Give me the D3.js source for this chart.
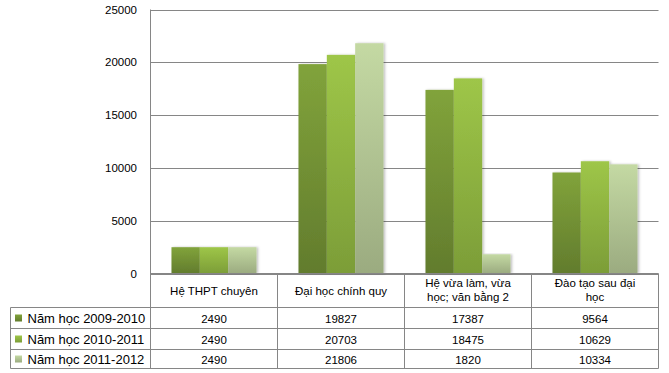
<!DOCTYPE html>
<html><head><meta charset="utf-8">
<script src="https://cdn.jsdelivr.net/npm/d3@7/dist/d3.min.js"></script>
<style>body{margin:0;background:#fff}svg{display:block}text{font-family:"Liberation Sans",Arial,sans-serif;fill:#000}</style>
</head><body><svg id="c" width="669" height="373"></svg>
<script>
const categories = [["Hệ THPT chuyên"],["Đại học chính quy"],["Hệ vừa làm, vừa","học; văn bằng 2"],["Đào tạo sau đại","học"]];
const seriesNames = ["Năm học 2009-2010","Năm học 2010-2011","Năm học 2011-2012"];
const s2009 = [2490,19827,17387,9564];
const s2010 = [2490,20703,18475,10629];
const s2011 = [2490,21806,1820,10334];
const yTicks = [0,5000,10000,15000,20000,25000];
const colorsTop = ["#81a33b","#9ec648","#c4d9a3"];
const colorsBot = ["#627c2d","#7c9d38","#9bab80"];

const series = [s2009,s2010,s2011];
const svg = d3.select("#c");
const L=150.5, R=658.5, T=9.5, B=273.5;
const rowLines=[307.5,328.5,349.5,368.5];
const tableLeft=10.5;

const defs=svg.append("defs");
colorsTop.forEach((c,i)=>{
  const g=defs.append("linearGradient").attr("id","g"+i).attr("x1",0).attr("y1",0).attr("x2",0).attr("y2",1);
  g.append("stop").attr("offset","0%").attr("stop-color",c);
  g.append("stop").attr("offset","100%").attr("stop-color",colorsBot[i]);
});
const f=defs.append("filter").attr("id","sh").attr("x","-20%").attr("y","-5%").attr("width","150%").attr("height","110%");
f.append("feDropShadow").attr("dx",1.5).attr("dy",0).attr("stdDeviation",1).attr("flood-color","#000").attr("flood-opacity",0.25);

const y=d3.scaleLinear().domain([0,25000]).range([B,T]);
const x0=d3.scaleBand().domain(d3.range(categories.length)).range([L,R]).paddingInner(0).paddingOuter(0);
const x1=d3.scaleBand().domain(d3.range(series.length)).range([0,x0.bandwidth()]).paddingInner(0).paddingOuter(0.74);

const grey="#868686";
// gridlines
svg.append("g").selectAll("line").data(yTicks).join("line")
  .attr("x1",L).attr("x2",R).attr("y1",d=>Math.round(y(d))+0.5-0.5*0).attr("y2",d=>Math.round(y(d))+0.5-0.5*0)
  .attr("stroke",grey).attr("stroke-width",1);
// y axis line
svg.append("line").attr("x1",L).attr("x2",L).attr("y1",T).attr("y2",rowLines[3]).attr("stroke",grey);
// tick labels
svg.append("g").selectAll("text").data(yTicks).join("text")
  .attr("x",137).attr("y",d=>y(d)+4).attr("text-anchor","end").attr("font-size","11.5px").text(d=>d);

// bars
const gb=svg.append("g");
categories.forEach((c,ci)=>{
  series.forEach((s,si)=>{
    gb.append("rect").attr("x",x0(ci)+x1(si)).attr("width",x1.bandwidth())
      .attr("y",y(s[ci])).attr("height",y(0)-y(s[ci])).attr("fill","url(#g"+si+")").attr("filter","url(#sh)");
  });
});
// redraw axis baseline on top
svg.append("line").attr("x1",L).attr("x2",R).attr("y1",B).attr("y2",B).attr("stroke",grey);

// table
const tg=svg.append("g");
rowLines.forEach(v=>tg.append("line").attr("x1",tableLeft).attr("x2",R).attr("y1",v).attr("y2",v).attr("stroke",grey));
tg.append("line").attr("x1",tableLeft).attr("x2",tableLeft).attr("y1",rowLines[0]).attr("y2",rowLines[3]).attr("stroke",grey);
d3.range(categories.length).forEach(ci=>{
  const xr=x0(ci)+x0.bandwidth();
  tg.append("line").attr("x1",Math.round(xr-0.5)+0.5).attr("x2",Math.round(xr-0.5)+0.5).attr("y1",B).attr("y2",rowLines[3]).attr("stroke",grey);
});
// headers
categories.forEach((lines,ci)=>{
  const cx=x0(ci)+x0.bandwidth()/2;
  const t=tg.append("text").attr("text-anchor","middle").attr("font-size","11.5px");
  if(lines.length===1){ t.append("tspan").attr("x",cx).attr("y",295).text(lines[0]); }
  else lines.forEach((l,li)=>t.append("tspan").attr("x",cx).attr("y",287+li*13.5).text(l));
});
// data rows
series.forEach((s,si)=>{
  const yc=(rowLines[si]+rowLines[si+1])/2;
  tg.append("rect").attr("x",15).attr("y",yc-3.5).attr("width",7).attr("height",7).attr("fill","url(#g"+si+")");
  tg.append("text").attr("x",27.5).attr("y",yc+4.5).attr("font-size","13px").text(seriesNames[si]);
  s.forEach((v,ci)=>{
    tg.append("text").attr("x",x0(ci)+x0.bandwidth()/2).attr("y",yc+4.5).attr("text-anchor","middle").attr("font-size","11.5px").text(v);
  });
});
</script></body></html>
